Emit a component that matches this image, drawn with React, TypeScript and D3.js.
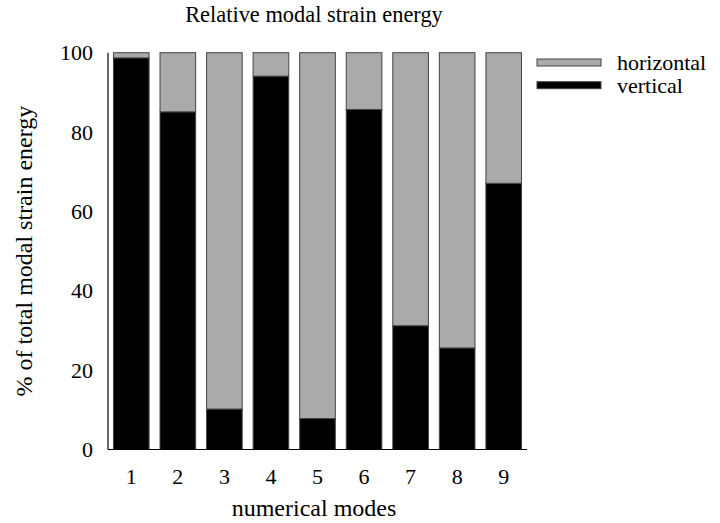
import React, { useEffect, useRef } from 'react';
import * as d3 from 'd3';

// mode numbers on the x axis
const modes = ['1', '2', '3', '4', '5', '6', '7', '8', '9'];
// vertical share of modal strain energy, in %
const vertical = [98.7, 85.1, 10.2, 94.1, 7.8, 85.7, 31.2, 25.6, 67.1];
// horizontal share is the rest up to 100
const horizontal = [1.3, 14.9, 89.8, 5.9, 92.2, 14.3, 68.8, 74.4, 32.9];
const yTicks = [0, 20, 40, 60, 80, 100];
const seriesNames = ['horizontal', 'vertical'];

function App() {
    const ref = useRef<SVGSVGElement>(null);

    useEffect(() => {
        draw();
    }, []);

    function draw() {
        const width = 720;
        const height = 523;
        const left = 108, right = 527, top = 52.7, bottom = 449.5;
        const font = 'Liberation Serif, DejaVu Serif, serif';
        const grey = '#aaaaaa';

        const svg = d3.select(ref.current)
            .attr('width', width)
            .attr('height', height)
            .attr('font-family', font)
            .style('position', 'absolute')
            .style('left', 0)
            .style('top', 0);
        svg.selectAll('*').remove();

        const x = d3.scaleBand(modes, [left, right]).paddingInner(0.235).paddingOuter(0.1175);
        const y = d3.scaleLinear([0, 100], [bottom, top]);

        // stacked bars: vertical at the bottom, horizontal on top
        const rows = modes.map((m, i) => ({ mode: m, vertical: vertical[i], horizontal: horizontal[i] }));
        const stack = d3.stack<any>().keys(['vertical', 'horizontal'])(rows);
        const colors: Record<string, string> = { vertical: '#000000', horizontal: grey };

        svg.append('g')
            .selectAll('g')
            .data(stack)
            .join('g')
            .attr('fill', d => colors[d.key])
            .attr('stroke', '#444')
            .attr('stroke-width', 1)
            .selectAll('rect')
            .data(d => d)
            .join('rect')
            .attr('x', d => x(d.data.mode)!)
            .attr('y', d => y(d[1]))
            .attr('width', x.bandwidth())
            .attr('height', d => y(d[0]) - y(d[1]));

        // axes lines, no tick marks
        svg.append('line')
            .attr('x1', left).attr('x2', left)
            .attr('y1', top).attr('y2', bottom)
            .attr('stroke', '#000').attr('stroke-width', 1.2);
        svg.append('line')
            .attr('x1', left).attr('x2', right)
            .attr('y1', bottom).attr('y2', bottom)
            .attr('stroke', '#000').attr('stroke-width', 1.2);

        svg.append('g')
            .selectAll('text')
            .data(yTicks)
            .join('text')
            .attr('x', left - 15)
            .attr('y', d => y(d))
            .attr('dy', '0.35em')
            .attr('text-anchor', 'end')
            .attr('font-size', 22)
            .text(d => d);

        svg.append('g')
            .selectAll('text')
            .data(modes)
            .join('text')
            .attr('x', d => x(d)! + x.bandwidth() / 2)
            .attr('y', 484)
            .attr('text-anchor', 'middle')
            .attr('font-size', 22)
            .text(d => d);

        svg.append('text')
            .attr('x', 314)
            .attr('y', 22)
            .attr('text-anchor', 'middle')
            .attr('font-size', 22.4)
            .text('Relative modal strain energy');

        svg.append('text')
            .attr('x', 314)
            .attr('y', 516)
            .attr('text-anchor', 'middle')
            .attr('font-size', 24)
            .text('numerical modes');

        svg.append('text')
            .attr('transform', `translate(32,${(top + bottom) / 2}) rotate(-90)`)
            .attr('text-anchor', 'middle')
            .attr('font-size', 24)
            .text('% of total modal strain energy');

        // legend
        const lg = svg.append('g');
        seriesNames.forEach((name, i) => {
            lg.append('rect')
                .attr('x', 537)
                .attr('y', 59 + i * 22.7)
                .attr('width', 64)
                .attr('height', 7)
                .attr('fill', colors[name])
                .attr('stroke', '#444');
            lg.append('text')
                .attr('x', 617)
                .attr('y', 62.5 + i * 22.7)
                .attr('dy', '0.35em')
                .attr('font-size', 22)
                .text(name);
        });
    }

    return (
        <div className="chart">
            <svg ref={ref}></svg>
        </div>
    );
}

export default App;
